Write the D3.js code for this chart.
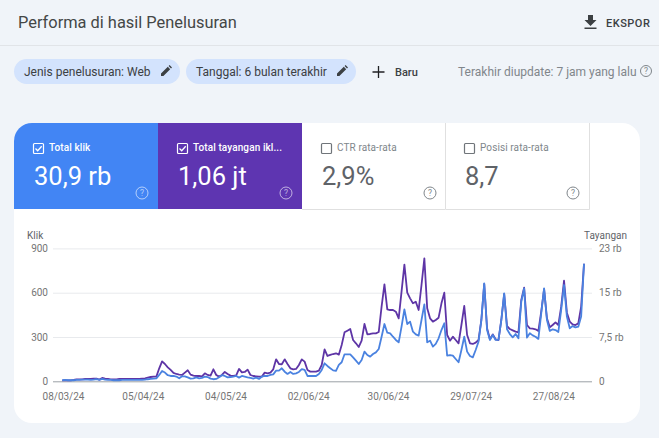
<!DOCTYPE html>
<html>
<head>
<meta charset="utf-8">
<script src="https://cdn.jsdelivr.net/npm/d3@7"></script>
<style>
  html, body { margin: 0; padding: 0; background: #f0f4f9; overflow: hidden; }
  svg { display: block; font-family: Roboto, sans-serif; }
  .axis .domain { display: none; }
  .axis line { stroke: #e8eaed; }
  .axis text { fill: #757575; font-size: 10px; font-family: Roboto, sans-serif; }
</style>
</head>
<body>
<div id="chart"></div>
<script>
// daily values, first point is 08/03/24
const startDate = '2024-03-08'

const klik = [
  7, 9, 7, 7, 7, 9, 9, 11, 11, 11,
  9, 11, 14, 9, 16, 11, 9, 9, 7, 7,
  7, 9, 9, 9, 9, 9, 9, 9, 9, 11,
  14, 16, 18, 20, 43, 70, 59, 41, 36, 36,
  32, 20, 34, 34, 27, 18, 20, 27, 20, 23,
  32, 29, 18, 14, 16, 27, 41, 36, 27, 29,
  32, 36, 25, 36, 32, 27, 23, 18, 25, 16,
  32, 36, 36, 43, 47, 72, 72, 88, 65, 50,
  63, 50, 54, 63, 83, 77, 36, 36, 36, 36,
  50, 77, 122, 104, 88, 74, 70, 111, 129, 183,
  183, 183, 162, 140, 117, 144, 201, 178, 167, 185,
  196, 219, 302, 388, 329, 325, 302, 280, 264, 370,
  487, 388, 404, 336, 318, 309, 415, 521, 264, 275,
  235, 253, 291, 347, 393, 174, 178, 174, 151, 129,
  212, 302, 201, 171, 162, 212, 268, 415, 663, 347,
  280, 314, 280, 280, 415, 596, 352, 320, 298, 320,
  291, 539, 629, 296, 325, 311, 302, 287, 460, 629,
  415, 341, 352, 347, 334, 483, 652, 438, 359, 374,
  365, 370, 438, 796
]

const tayangan = [
  170, 170, 170, 170, 230, 340, 340, 340, 390, 390,
  390, 450, 450, 280, 560, 450, 390, 340, 340, 340,
  390, 390, 390, 390, 390, 390, 390, 390, 450, 510,
  620, 730, 790, 790, 2200, 3380, 2930, 2370, 1920, 1410,
  1240, 1130, 1070, 1470, 1860, 1130, 960, 900, 900, 850,
  1350, 1070, 960, 2030, 1070, 790, 1070, 1580, 1240, 960,
  900, 1020, 2090, 1520, 1580, 1970, 1070, 900, 850, 790,
  790, 1470, 1350, 1470, 2030, 3720, 2930, 2880, 3720, 2930,
  2200, 2030, 2090, 2760, 3720, 3330, 1920, 1640, 1640, 1640,
  1800, 2760, 5410, 4290, 4460, 4620, 4740, 4510, 6150, 8290,
  8570, 8850, 6990, 6430, 5810, 6880, 9700, 7950, 8010, 8120,
  8120, 8350, 12630, 16410, 12180, 12070, 12070, 11790, 10660, 15170,
  19740, 15000, 14040, 13200, 13480, 12070, 16300, 20810, 12350, 10660,
  10100, 10380, 10770, 13200, 15000, 7840, 6880, 7560, 6990, 6430,
  9530, 12750, 7840, 6430, 6320, 6540, 6990, 10380, 16470, 8970,
  7110, 7950, 7110, 6990, 10380, 14780, 9360, 8850, 8630, 8400,
  8290, 13760, 15850, 9530, 8970, 8910, 8800, 8520, 11790, 15620,
  10660, 9140, 9530, 9980, 9530, 12630, 17030, 11620, 10100, 9640,
  9530, 9810, 12630, 19910
]

const dateTicks = ['2024-03-08', '2024-04-05', '2024-05-04', '2024-06-02', '2024-06-30', '2024-07-29', '2024-08-27']
const klikTicks = [0, 300, 600, 900]
const tayanganTicks = [0, 7500, 15000, 22500]
const tayanganLabels = ['0', '7,5 rb', '15 rb', '23 rb']

const chips = [
  { label: 'Jenis penelusuran: Web', x: 14, w: 166 },
  { label: 'Tanggal: 6 bulan terakhir', x: 186, w: 170 },
]
const tabs = [
  { label: 'Total klik', value: '30,9 rb', x: 14, w: 144, bg: '#4285f4', on: true },
  { label: 'Total tayangan ikl...', value: '1,06 jt', x: 158, w: 144, bg: '#5e35b1', on: true },
  { label: 'CTR rata-rata', value: '2,9%', x: 302, w: 144, bg: '#fff', on: false },
  { label: 'Posisi rata-rata', value: '8,7', x: 446, w: 144, bg: '#fff', on: false },
]

const width = 659
const height = 438
const parseDate = d3.utcParse('%Y-%m-%d')
const start = parseDate(startDate)
const dates = klik.map((d, i) => d3.utcDay.offset(start, i))

const svg = d3.select('#chart').append('svg').attr('width', width).attr('height', height)

// question mark icon
function helpIcon(x, y, color, r = 5.5) {
  svg.append('circle').attr('cx', x).attr('cy', y).attr('r', r)
    .attr('fill', 'none').attr('stroke', color).attr('stroke-width', 1)
  svg.append('text').attr('x', x).attr('y', y + 3).attr('text-anchor', 'middle')
    .style('font-size', '8.5px').attr('fill', color).text('?')
}

// pencil icon used in the filter chips
function pencil(x, y) {
  svg.append('path')
    .attr('transform', `translate(${x},${y})`)
    .attr('d', 'M-5,5 L-5,2.6 L1.8,-4.2 L4.2,-1.8 L-2.6,5 Z M2.6,-5 L3.6,-6 L6,-3.6 L5,-2.6 Z')
    .attr('fill', '#3c4043')
}

// page header
svg.append('text').attr('x', 18).attr('y', 27.5).attr('fill', '#444746')
  .style('font-size', '16.4px').text('Performa di hasil Penelusuran')
svg.append('line').attr('x1', 0).attr('x2', width).attr('y1', 45.5).attr('y2', 45.5)
  .attr('stroke', '#e1e4e8')
svg.append('path')
  .attr('d', 'M588,15 h5 v5 h3.5 l-6,6 l-6,-6 h3.5 Z M584.5,27.5 h12 v1.5 h-12 Z')
  .attr('fill', '#3c4043')
svg.append('text').attr('x', 606).attr('y', 27).attr('fill', '#3c4043')
  .style('font-size', '11px').style('font-weight', 500).style('letter-spacing', '0.5px').text('EKSPOR')

// filter chips
chips.forEach(c => {
  svg.append('rect').attr('x', c.x).attr('y', 59).attr('width', c.w).attr('height', 25)
    .attr('rx', 12.5).attr('fill', '#d3e3fd')
  svg.append('text').attr('x', c.x + 10).attr('y', 76).attr('fill', '#3c4043')
    .style('font-size', '12px').text(c.label)
  pencil(c.x + c.w - 14, 71)
})

svg.append('path').attr('d', 'M378.5,66 v12 M372.5,72 h12').attr('stroke', '#202124').attr('stroke-width', 1.3)
svg.append('text').attr('x', 395).attr('y', 76).attr('fill', '#3c4043')
  .style('font-size', '11px').style('font-weight', 500).text('Baru')
svg.append('text').attr('x', 458).attr('y', 76).attr('fill', '#80868b')
  .style('font-size', '12px').text('Terakhir diupdate: 7 jam yang lalu')
helpIcon(646, 71, '#80868b')

// card
svg.append('rect').attr('x', 14).attr('y', 123).attr('width', 626).attr('height', 300)
  .attr('rx', 18).attr('fill', '#fff')

// metric tabs
tabs.forEach((t, i) => {
  if (i === 0) {
    svg.append('path').attr('fill', t.bg)
      .attr('d', `M${t.x},209 V141 a18,18 0 0 1 18,-18 H${t.x + t.w} V209 Z`)
  } else {
    svg.append('rect').attr('x', t.x).attr('y', 123).attr('width', t.w).attr('height', 86).attr('fill', t.bg)
  }
  if (!t.on) {
    svg.append('path').attr('d', `M${t.x + t.w - 0.5},123 V209.5 H${t.x}`)
      .attr('fill', 'none').attr('stroke', '#e0e0e0')
  }
  const fg = t.on ? '#fff' : '#70757a'
  const left = i === 3 ? t.x - 1 : t.x
  const cx = left + 19.5
  svg.append('rect').attr('x', cx).attr('y', 143.5).attr('width', 10).attr('height', 10)
    .attr('rx', 1).attr('fill', 'none').attr('stroke', fg).attr('stroke-width', 1.2)
  if (t.on) {
    svg.append('path').attr('d', `M${cx + 2},${148.5} l2.2,2.2 l4,-4.4`)
      .attr('fill', 'none').attr('stroke', fg).attr('stroke-width', 1.3)
  }
  svg.append('text').attr('x', left + 35).attr('y', 151).attr('fill', t.on ? '#fff' : '#80868b')
    .style('font-size', '10px').style('font-weight', t.on ? 500 : 400).style('letter-spacing', '0.1px').text(t.label)
  svg.append('text').attr('x', left + 20).attr('y', 185).attr('fill', t.on ? '#fff' : '#5f6368')
    .style('font-size', '25.5px').text(t.value)
  helpIcon(left + 128, 193, t.on ? 'rgba(255,255,255,0.6)' : '#80868b', 6)
})

// scales
const x = d3.scaleUtc()
  .domain([start, dates[dates.length - 1]])
  .range([62.3, 584])
const yKlik = d3.scaleLinear().domain([0, 900]).range([381.3, 248.4])
const yTayangan = d3.scaleLinear().domain([0, 22500]).range([381.3, 248.4])

// axes
const axisK = svg.append('g').attr('class', 'axis')
  .attr('transform', 'translate(53,0)')
  .call(d3.axisLeft(yKlik).tickValues(klikTicks).tickSize(0).tickPadding(5))
axisK.selectAll('.tick').append('line').attr('x2', 539)
axisK.selectAll('.tick').filter(d => d === 0).select('line:last-of-type').style('stroke', '#9aa0a6')

svg.append('g').attr('class', 'axis')
  .attr('transform', 'translate(592,0)')
  .call(d3.axisRight(yTayangan).tickValues(tayanganTicks).tickSize(0).tickPadding(7)
    .tickFormat((d, i) => tayanganLabels[i]))

svg.append('g').attr('class', 'axis')
  .attr('transform', 'translate(0.7,381.3)')
  .call(d3.axisBottom(x).tickValues(dateTicks.map(parseDate)).tickSize(0).tickPadding(12)
    .tickFormat(d3.utcFormat('%d/%m/%y')))

svg.append('text').attr('x', 27).attr('y', 239).attr('fill', '#5f6368')
  .style('font-size', '10px').text('Klik')
svg.append('text').attr('x', 627).attr('y', 239).attr('text-anchor', 'end').attr('fill', '#5f6368')
  .style('font-size', '10px').text('Tayangan')

// series, clicks are drawn on top
const lineT = d3.line().x((d, i) => x(dates[i])).y(d => yTayangan(d))
const lineK = d3.line().x((d, i) => x(dates[i])).y(d => yKlik(d))

svg.append('path').datum(tayangan).attr('d', lineT)
  .attr('fill', 'none').attr('stroke', '#5e35a6').attr('stroke-width', 1.8).attr('stroke-linejoin', 'round')
svg.append('path').datum(klik).attr('d', lineK)
  .attr('fill', 'none').attr('stroke', '#4a82e0').attr('stroke-width', 1.8).attr('stroke-linejoin', 'round')
</script>
</body>
</html>
